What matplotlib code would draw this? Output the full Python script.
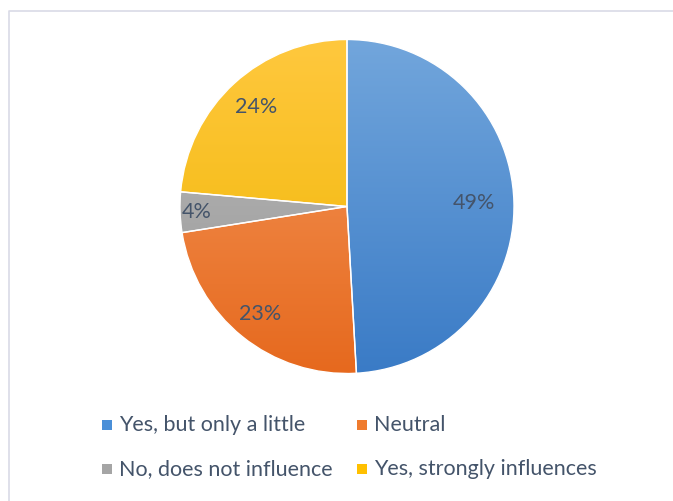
"""
Pie chart: does it influence you? (Excel-style, gradient slices)
Saves out.png at 673x501 px.
"""

import numpy as np
import matplotlib
matplotlib.use("Agg")
import matplotlib.pyplot as plt
from matplotlib.patches import Rectangle
from matplotlib.lines import Line2D
from matplotlib.colors import LinearSegmentedColormap

# ── Data ─────────────────────────────────────────────────────────────────────
labels = ["Yes, but only a little", "Neutral", "No, does not influence",
          "Yes, strongly influences"]
values = [49.1, 23.4, 3.9, 23.6]
pct_text = ["49%", "23%", "4%", "24%"]

# ── Styling ──────────────────────────────────────────────────────────────────
# (top colour, bottom colour) for the vertical gradient of every slice
GRAD = [("#72a6dc", "#3a7bc6"),
        ("#f59a5e", "#e6691e"),
        ("#bcbcbc", "#969696"),
        ("#ffc83e", "#efb500")]
LEG_COL = ["#4a8fd8", "#ef7b2e", "#a5a5a5", "#ffc000"]
TXT = "#44546a"
FONT = "Lato"
LABEL_R = [0.76, 0.83, 0.90, 0.81]   # radial position of the % labels

W, H = 673, 501
fig = plt.figure(figsize=(W / 100, H / 100), dpi=100)
fig.patch.set_facecolor("white")

# chart-area frame: only the left and top edges are inside the crop
x0, y0 = 8.5 / W, 1 - 10.5 / H
fig.add_artist(Line2D([x0, x0, 1.0], [0.0, y0, y0], transform=fig.transFigure,
                      color="#d9dae6", lw=1.2))

# ── Pie ──────────────────────────────────────────────────────────────────────
cx, cy, r = 347, 501 - 206.5, 167
ax = fig.add_axes([(cx - r) / W, (cy - r) / H, 2 * r / W, 2 * r / H])
wedges, _ = ax.pie(values, startangle=90, counterclock=False, radius=1,
                   colors=[g[0] for g in GRAD],
                   wedgeprops=dict(edgecolor="white", linewidth=1.0))
ax.set_xlim(-1, 1)
ax.set_ylim(-1, 1)
ax.set_aspect("equal")
ax.axis("off")

grad = np.linspace(0, 1, 256).reshape(-1, 1)
for w, (top, bot) in zip(wedges, GRAD):
    cmap = LinearSegmentedColormap.from_list("g", [top, bot])
    im = ax.imshow(grad, cmap=cmap, extent=[-1, 1, -1, 1], aspect="auto",
                   origin="upper", zorder=w.get_zorder() + 0.1)
    im.set_clip_path(w)
    # redraw the white separator on top of the gradient
    w.set_facecolor("none")
    w.set_zorder(w.get_zorder() + 0.2)

for w, txt, lr in zip(wedges, pct_text, LABEL_R):
    mid = np.deg2rad((w.theta1 + w.theta2) / 2)
    ax.text(lr * np.cos(mid), lr * np.sin(mid), txt, ha="center", va="center",
            fontsize=15.5, color=TXT, family=FONT, zorder=10)

# ── Legend ───────────────────────────────────────────────────────────────────
leg_pos = [(102, 425), (357, 425), (102, 469), (357, 469)]
for (lx, ly), lab, col in zip(leg_pos, labels, LEG_COL):
    fig.patches.append(Rectangle((lx / W, (H - ly - 5) / H), 10 / W, 10 / H,
                                 transform=fig.transFigure, facecolor=col,
                                 edgecolor="none"))
    fig.text((lx + 17) / W, (H - ly) / H, lab, ha="left", va="center",
             fontsize=15.5, color=TXT, family=FONT)

fig.savefig("out.png", dpi=100, facecolor="white")
plt.close(fig)
